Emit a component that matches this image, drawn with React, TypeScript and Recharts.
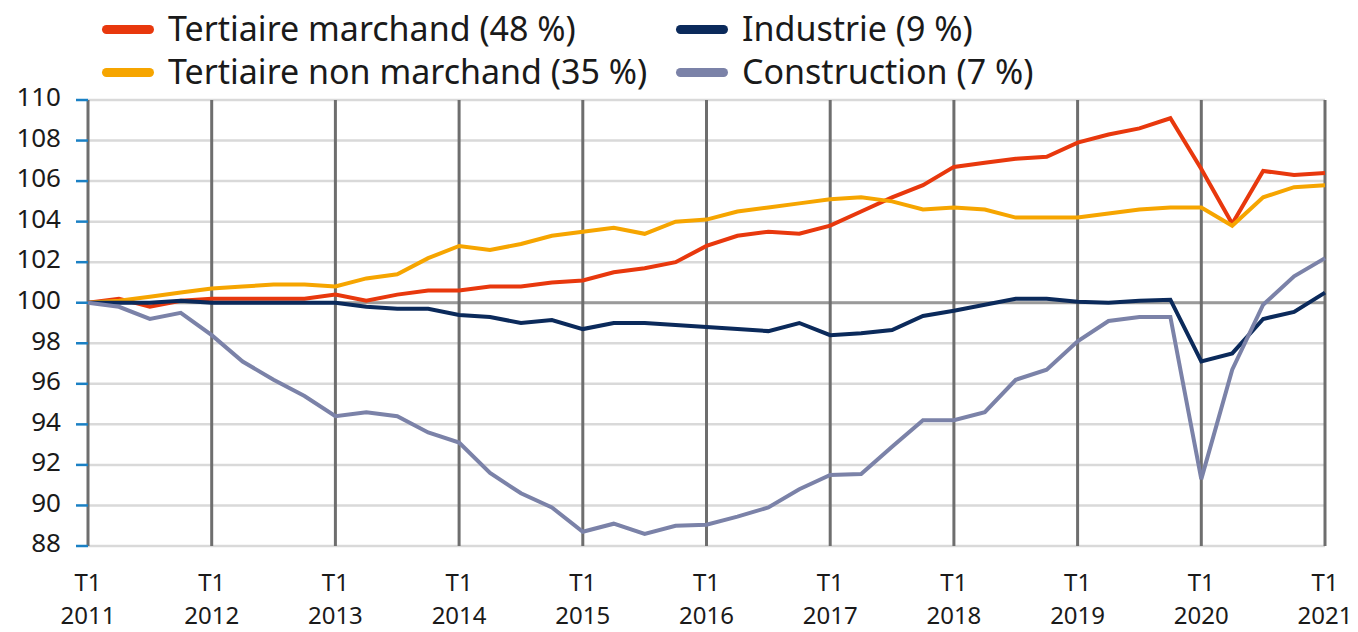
import React from "react";
import {
  CartesianGrid,
  Legend,
  Line,
  LineChart,
  XAxis,
  YAxis,
} from "recharts";

const years = [2011, 2012, 2013, 2014, 2015, 2016, 2017, 2018, 2019, 2020];
const quarterNames = ["T1", "T2", "T3", "T4"];

// T1 2011 .. T1 2021 (41 quarters)
const quarters: string[] = [];
years.forEach(y => quarterNames.forEach(q => quarters.push(`${q} ${y}`)));
quarters.push("T1 2021");

const yearTicks = quarters.filter(q => q.startsWith("T1"));
const yTicks = [88, 90, 92, 94, 96, 98, 100, 102, 104, 106, 108, 110];

const tertiaireMarchand = [
  100, 100.2, 99.8, 100.1, 100.2, 100.2, 100.2, 100.2, 100.4, 100.1, 100.4,
  100.6, 100.6, 100.8, 100.8, 101.0, 101.1, 101.5, 101.7, 102.0, 102.8, 103.3,
  103.5, 103.4, 103.8, 104.5, 105.2, 105.8, 106.7, 106.9, 107.1, 107.2, 107.9,
  108.3, 108.6, 109.1, 106.6, 103.9, 106.5, 106.3, 106.4,
];
const tertiaireNonMarchand = [
  100, 100.1, 100.3, 100.5, 100.7, 100.8, 100.9, 100.9, 100.8, 101.2, 101.4,
  102.2, 102.8, 102.6, 102.9, 103.3, 103.5, 103.7, 103.4, 104.0, 104.1, 104.5,
  104.7, 104.9, 105.1, 105.2, 105.0, 104.6, 104.7, 104.6, 104.2, 104.2, 104.2,
  104.4, 104.6, 104.7, 104.7, 103.8, 105.2, 105.7, 105.8,
];
const industrie = [
  100, 100.0, 100.0, 100.1, 100.0, 100.0, 100.0, 100.0, 100.0, 99.8, 99.7,
  99.7, 99.4, 99.3, 99.0, 99.15, 98.7, 99.0, 99.0, 98.9, 98.8, 98.7, 98.6,
  99.0, 98.4, 98.5, 98.65, 99.35, 99.6, 99.9, 100.2, 100.2, 100.05, 100.0,
  100.1, 100.15, 97.1, 97.5, 99.2, 99.55, 100.5,
];
const construction = [
  100, 99.8, 99.2, 99.5, 98.4, 97.1, 96.2, 95.4, 94.4, 94.6, 94.4, 93.6, 93.1,
  91.6, 90.6, 89.9, 88.7, 89.1, 88.6, 89.0, 89.05, 89.45, 89.9, 90.8, 91.5,
  91.55, 92.9, 94.2, 94.2, 94.6, 96.2, 96.7, 98.1, 99.1, 99.3, 99.3, 91.3,
  96.7, 99.9, 101.3, 102.2,
];

const series = [
  { key: "marchand", name: "Tertiaire marchand (48 %)", color: "#e8380d", values: tertiaireMarchand },
  { key: "nonMarchand", name: "Tertiaire non marchand (35 %)", color: "#f6a500", values: tertiaireNonMarchand },
  { key: "industrie", name: "Industrie (9 %)", color: "#0b2a5b", values: industrie },
  { key: "construction", name: "Construction (7 %)", color: "#7b82a8", values: construction },
];

const data = quarters.map((label, i) => {
  const row: Record<string, string | number> = { label };
  series.forEach(s => (row[s.key] = s.values[i]));
  return row;
});

const FONT = "'Noto Sans', sans-serif";
const TEXT = "#1a1a1a";

// two-line tick: "T1" above the year
const XTick = (props: any) => {
  const { x, y, payload } = props;
  const [q, yr] = String(payload.value).split(" ");
  return (
    <g fill={TEXT} fontSize={24} fontFamily={FONT} textAnchor="middle">
      <text x={x} y={y + 45}>{q}</text>
      <text x={x} y={y + 78}>{yr}</text>
    </g>
  );
};

// legend placement: [icon left, row top]
const legendPos = [
  [102, 8],
  [102, 51],
  [676, 8],
  [676, 51],
];

const LegendBox = () => (
  <div style={{ position: "relative", width: 1358, height: 100 }}>
    {series.map((s, i) => {
      const [left, top] = legendPos[i];
      return (
        <div key={s.key} style={{ position: "absolute", left, top, height: 40, display: "flex", alignItems: "center" }}>
          <div style={{ width: 52, height: 9, borderRadius: 5, background: s.color, marginTop: 2 }} />
          <span style={{ marginLeft: 14, fontFamily: FONT, fontSize: 34, lineHeight: "40px", color: TEXT, whiteSpace: "nowrap" }}>
            {s.name}
          </span>
        </div>
      );
    })}
  </div>
);

export default function App() {
  return (
    <div style={{ position: "absolute", left: 0, top: 0, background: "#fff" }}>
      <LineChart width={1358} height={632} data={data} margin={{ top: 100, right: 33, bottom: 0, left: 0 }}>
        <CartesianGrid vertical={false} stroke="#d9d9d9" strokeWidth={2.5} />
        <CartesianGrid vertical={false} horizontalValues={[100]} stroke="#9a9a9a" strokeWidth={3} />
        <CartesianGrid horizontal={false} stroke="#6e6e6e" strokeWidth={3} />
        <XAxis
          dataKey="label"
          ticks={yearTicks}
          interval={0}
          axisLine={false}
          tickLine={false}
          tickSize={0}
          tickMargin={0}
          height={86}
          tick={<XTick />}
        />
        <YAxis
          domain={[88, 110]}
          ticks={yTicks}
          width={88}
          axisLine={false}
          tickSize={12}
          tickMargin={15}
          tickLine={{ stroke: "#1a80c4", strokeWidth: 2.5 }}
          tick={{ fill: TEXT, fontSize: 26, fontFamily: FONT, dy: -3 }}
        />
        <Legend
          verticalAlign="middle"
          align="center"
          layout="horizontal"
          wrapperStyle={{ top: 0, left: 0, width: 1358, height: 100 }}
          content={() => <LegendBox />}
        />
        {series.map(s => (
          <Line
            key={s.key}
            dataKey={s.key}
            name={s.name}
            type="linear"
            stroke={s.color}
            strokeWidth={4}
            dot={false}
            activeDot={false}
            isAnimationActive={false}
          />
        ))}
      </LineChart>
    </div>
  );
}
